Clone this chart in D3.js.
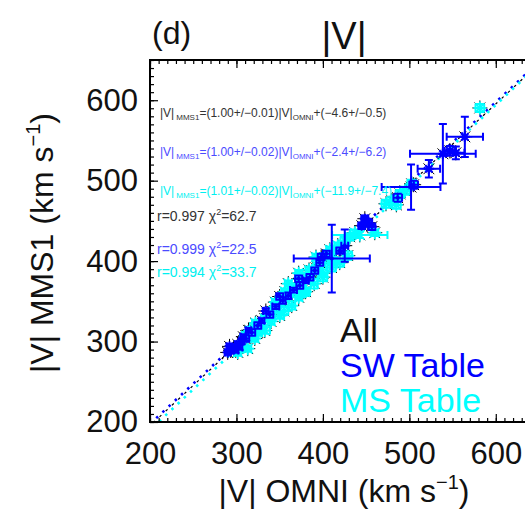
<!DOCTYPE html>
<html><head><meta charset="utf-8">
<script src="https://cdn.jsdelivr.net/npm/d3@7"></script>
<style>
body{margin:0;background:#fff}
svg{display:block}
text{font-family:"Liberation Sans",Arial,Helvetica,sans-serif}
</style>
</head><body>
<svg id="c" width="525" height="509"></svg>
<script>
// ---------- data ----------
const majorTicks = [200, 300, 400, 500, 600];
const groupNames = ["All", "SW Table", "MS Table"];
const groupColors = ["#000000", "#0000ff", "#00ffff"];
const textColors = ["#333333", "#4b4bff", "#00f0f0"];
// fit: |V|MMS1 = a |V|OMNI + b
const fitSlope = [1.00, 1.00, 1.01];
const fitSlopeErr = [0.01, 0.02, 0.02];
const fitIntercept = [-4.6, -2.4, -11.9];
const fitInterceptErr = [0.5, 6.2, 7.4];
const rValues = ["0.997", "0.999", "0.994"];
const chi2Values = ["62.7", "22.5", "33.7"];

// SW table points (OMNI, MMS1, errors)
const swOmni = [296.9,301.5,293.4,306.1,289.9,310.8,299.2,303.8,317.7,324.7,329.3,338.6,345.5,353.6,373.3,380.2,390.6,396.4,410.3,419.5,425.3,445.0,452.0,456.6,448.5,486.6,502.0,505.0,522.6,538.8,546.9,553.8,564.2,360.0,366.0,334.0,314.0,398.0,404.0,385.0,292.0,308.0,350.0,372.0];
const swMms  = [291.4,296.4,288.9,300.1,286.5,303.8,289.0,292.7,311.2,320.0,326.0,333.5,343.5,351.0,369.6,375.8,388.2,398.1,403.1,413.0,419.2,444.0,447.8,442.8,452.7,478.8,492.0,495.0,514.8,533.4,537.1,534.6,554.5,357.0,364.0,338.0,314.0,405.0,409.0,380.0,294.0,306.0,356.0,378.0];
const swOmniErr = [3,3,4,3,3,4,3,3,4,4,3,4,4,3,4,3,4,4,44,4,4,4,5,4,4,5,34,5,13,38,6,10,21,3,4,3,3,4,4,4,3,3,4,4];
const swMmsErr  = [3,4,3,3,3,4,3,3,4,4,3,4,3,4,4,3,4,4,42,4,20,4,5,4,4,5,28,5,11,37,6,8,25,4,3,3,3,4,4,4,3,3,4,4];

// MS table points
const msOmni = [581.6,495.0,489.2,479.9,473.0,442.7,436.9,431.1,425.3,417.2,410.3,405.7,398.7,394.1,387.2,382.5,375.6,368.6,361.7,355.9,350.1,344.3,338.6,332.8,329.3,324.7,321.2,315.4,310.8,306.1,301.5,313.1,332.8,364.0,350.1,378.0,390.0,419.5,428.8,460.0,502.8,485.0,340.0,372.0,400.0,412.0,345.0,356.0,322.0,384.0,396.0,408.0,355.0,380.0,400.0,410.0,360.0,372.0,392.0];
const msMms  = [590.4,487.5,483.5,475.0,471.3,432.6,435.3,430.3,425.4,419.2,413.0,406.8,398.1,393.2,388.2,380.8,373.3,368.3,360.9,355.9,348.5,343.5,336.0,328.6,320.0,311.2,303.8,313.7,307.5,295.1,286.5,291.2,313.7,344.7,332.3,362.0,372.0,398.1,406.8,435.3,496.0,470.0,325.0,355.0,385.0,400.0,349.0,362.0,323.0,389.0,402.0,414.0,338.0,362.0,380.0,392.0,372.0,385.0,405.0];
const msOmniErr = [5,5,5,6,5,32,5,4,5,4,5,4,4,5,4,4,5,4,4,5,4,4,4,4,4,5,4,4,4,4,4,4,6,4,5,5,4,5,5,4,5,5,4,4,5,5,4,4,4,4,4,4,5,5,5,5,4,4,4];
const msMmsErr  = [5,5,5,5,5,4,4,4,5,4,4,5,4,5,4,4,5,4,4,4,4,4,4,4,4,4,4,4,4,4,4,4,4,5,4,5,6,5,5,4,5,5,4,4,5,5,4,4,4,4,4,4,5,5,5,5,4,4,4];

// ---------- drawing ----------
const svg = d3.select("#c");
const x = d3.scaleLinear().domain([200, 650]).range([150, 539]);
const y = d3.scaleLinear().domain([200, 650]).range([422, 60]);
const minorTicks = d3.range(200, 651, 10);

svg.append("defs").append("clipPath").attr("id", "plotclip")
  .append("rect").attr("x", x(200)).attr("y", y(650))
  .attr("width", x(650) - x(200)).attr("height", y(200) - y(650));

const toPts = (o, m, eo, em) => o.map((v, i) => ({o: v, m: m[i], eo: eo[i], em: em[i]}));
const sw = toPts(swOmni, swMms, swOmniErr, swMmsErr);
const ms = toPts(msOmni, msMms, msOmniErr, msMmsErr);
const all = sw.concat(ms);

const plot = svg.append("g").attr("clip-path", "url(#plotclip)");

// fit lines (dotted)
const fitG = plot.append("g");
[0, 1, 2].forEach(k => {
  const f = v => fitSlope[k] * v + fitIntercept[k];
  fitG.append("line")
    .attr("x1", x(200)).attr("y1", y(f(200)))
    .attr("x2", x(650)).attr("y2", y(f(650)))
    .attr("stroke", groupColors[k]).attr("stroke-width", k === 0 ? 1.2 : 2.6)
    .attr("stroke-dasharray", "2.5,6").attr("stroke-dashoffset", -(k - 1) * 4);
});

function starPath(cx, cy, r) {
  const d = r * 0.72;
  return `M${cx - r},${cy}h${2 * r}M${cx},${cy - r}v${2 * r}` +
         `M${cx - d},${cy - d}l${2 * d},${2 * d}M${cx - d},${cy + d}l${2 * d},${-2 * d}`;
}
function errPath(p) {
  const cx = x(p.o), cy = y(p.m), c = 4;
  const x0 = x(p.o - p.eo), x1 = x(p.o + p.eo), y0 = y(p.m + p.em), y1 = y(p.m - p.em);
  return `M${x0},${cy}H${x1}M${x0},${cy - c}V${cy + c}M${x1},${cy - c}V${cy + c}` +
         `M${cx},${y0}V${y1}M${cx - c},${y0}H${cx + c}M${cx - c},${y1}H${cx + c}`;
}

// All (black asterisks)
plot.append("g").selectAll("path").data(all).join("path")
  .attr("d", p => starPath(x(p.o), y(p.m), 7.5))
  .attr("stroke", groupColors[0]).attr("stroke-width", 1).attr("fill", "none");

// SW symbols
plot.append("g").selectAll("path").data(sw).join("path")
  .attr("d", p => starPath(x(p.o), y(p.m), 5))
  .attr("stroke", groupColors[1]).attr("stroke-width", 2.2).attr("fill", "none");
// MS error bars + symbols
plot.append("g").selectAll("path").data(ms).join("path")
  .attr("d", errPath).attr("stroke", groupColors[2]).attr("stroke-width", 2).attr("fill", "none");
plot.append("g").selectAll("path").data(ms).join("path")
  .attr("d", p => starPath(x(p.o), y(p.m), 6.5))
  .attr("stroke", groupColors[2]).attr("stroke-width", 1.8).attr("fill", "none");
// SW error bars on top
plot.append("g").selectAll("path").data(sw).join("path")
  .attr("d", errPath).attr("stroke", groupColors[1]).attr("stroke-width", 2).attr("fill", "none");
// small SW centres
plot.append("g").selectAll("circle").data(sw).join("circle")
  .attr("cx", p => x(p.o)).attr("cy", p => y(p.m)).attr("r", 2)
  .attr("fill", groupColors[1]);

// axes
function styleAxis(g) {
  g.select(".domain").remove();
  g.selectAll(".tick line").attr("stroke", "#000").attr("stroke-width", 1.2);
  g.selectAll("text").attr("font-size", 31).attr("fill", "#111");
}
svg.append("g").attr("transform", `translate(${x(200)},0)`)
  .call(d3.axisLeft(y).tickValues(minorTicks).tickSize(-4).tickFormat("")).call(styleAxis);
svg.append("g").attr("transform", `translate(${x(200)},0)`)
  .call(d3.axisLeft(y).tickValues(majorTicks).tickSize(-8).tickPadding(12).tickFormat(d3.format("d"))).call(styleAxis);
svg.append("g").attr("transform", `translate(0,${y(200)})`)
  .call(d3.axisBottom(x).tickValues(minorTicks).tickSize(-4).tickFormat("")).call(styleAxis);
svg.append("g").attr("transform", `translate(0,${y(200)})`)
  .call(d3.axisBottom(x).tickValues(majorTicks).tickSize(-8).tickPadding(20).tickFormat(d3.format("d"))).call(styleAxis);
svg.append("g").attr("transform", `translate(0,${y(650)})`)
  .call(d3.axisTop(x).tickValues(minorTicks).tickSize(-4).tickFormat("")).call(styleAxis);
svg.append("g").attr("transform", `translate(0,${y(650)})`)
  .call(d3.axisTop(x).tickValues(majorTicks).tickSize(-8).tickFormat("")).call(styleAxis);
svg.append("g").attr("transform", `translate(${x(650)},0)`)
  .call(d3.axisRight(y).tickValues(majorTicks).tickSize(-8).tickFormat("")).call(styleAxis);

// frame
svg.append("rect").attr("x", x(200)).attr("y", y(650))
  .attr("width", x(650) - x(200)).attr("height", y(200) - y(650))
  .attr("fill", "none").attr("stroke", "#000").attr("stroke-width", 2);

// titles
svg.append("text").attr("x", 152).attr("y", 44).attr("font-size", 32).attr("fill", "#111").text("(d)");
svg.append("text").attr("x", 344).attr("y", 49).attr("font-size", 38).attr("fill", "#111")
  .attr("text-anchor", "middle").text("|V|");

const xt = svg.append("text").attr("x", 344).attr("y", 502).attr("font-size", 32)
  .attr("fill", "#111").attr("text-anchor", "middle");
xt.append("tspan").text("|V| OMNI (km s");
xt.append("tspan").attr("font-size", 20).attr("dy", -13).text("−1");
xt.append("tspan").attr("dy", 13).text(")");

const yt = svg.append("text").attr("transform", "translate(53,243) rotate(-90)")
  .attr("font-size", 32).attr("fill", "#111").attr("text-anchor", "middle");
yt.append("tspan").text("|V| MMS1 (km s");
yt.append("tspan").attr("font-size", 20).attr("dy", -13).text("−1");
yt.append("tspan").attr("dy", 13).text(")");

// fit annotations
const eqBase = [117, 156, 195];
const fmtSigned = v => (v < 0 ? "−" + Math.abs(v).toFixed(1) : v.toFixed(1));
[0, 1, 2].forEach(k => {
  const t = svg.append("text").attr("x", 160).attr("y", eqBase[k]).attr("font-size", 12)
    .attr("fill", textColors[k]);
  t.append("tspan").text("|V|");
  t.append("tspan").attr("font-size", 8).attr("dx", 2).attr("dy", 3).text("MMS1");
  t.append("tspan").attr("dy", -3).text(`=(${fitSlope[k].toFixed(2)}+/−${fitSlopeErr[k].toFixed(2)})|V|`);
  t.append("tspan").attr("font-size", 8).attr("dy", 3).text("OMNI");
  t.append("tspan").attr("dy", -3).text(`+(${fmtSigned(fitIntercept[k])}+/−${fitInterceptErr[k].toFixed(1)})`);
});
const rBase = [221, 254, 277];
[0, 1, 2].forEach(k => {
  const t = svg.append("text").attr("x", 157).attr("y", rBase[k]).attr("font-size", 14)
    .attr("fill", textColors[k]);
  t.append("tspan").text(`r=${rValues[k]} χ`);
  t.append("tspan").attr("font-size", 9).attr("dy", -6).text("2");
  t.append("tspan").attr("dy", 6).text(`=${chi2Values[k]}`);
});

// legend
const legBase = [342, 377, 412];
groupNames.forEach((n, k) => {
  svg.append("text").attr("x", 340).attr("y", legBase[k]).attr("font-size", 34)
    .attr("fill", k === 0 ? "#111" : groupColors[k]).text(n);
});
</script>
</body></html>
